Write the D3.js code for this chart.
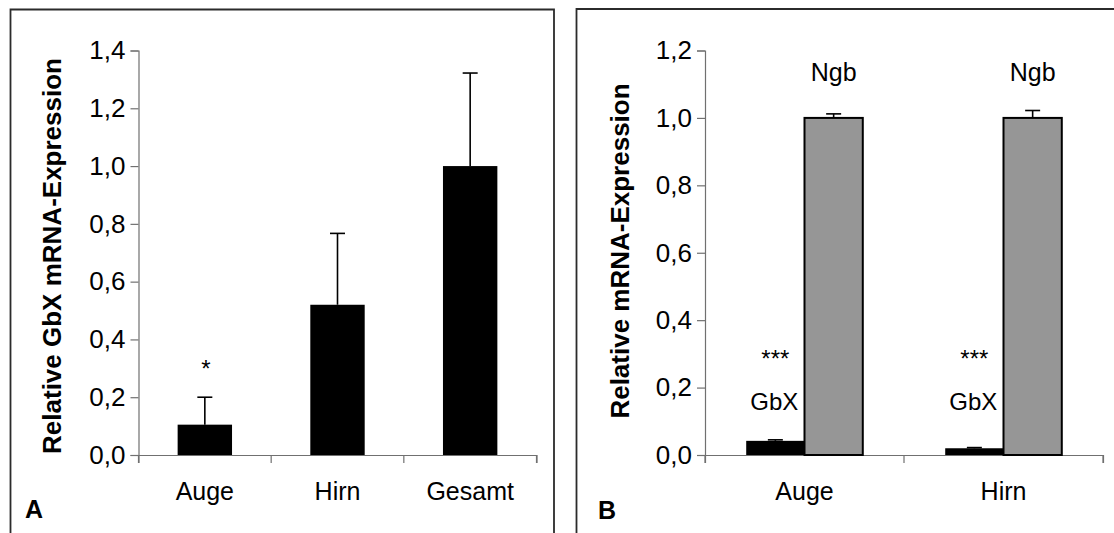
<!DOCTYPE html>
<html>
<head>
<meta charset="utf-8">
<script src="https://cdn.jsdelivr.net/npm/d3@7/dist/d3.min.js"></script>
<style>
  html, body { margin: 0; padding: 0; background: #fff; }
  svg { display: block; }
  text { font-family: "Liberation Sans", Arial, sans-serif; fill: #000; }
</style>
</head>
<body>
<svg id="chart" width="1114" height="533"></svg>
<script>
// Panel A: GbX expression per tissue
const catsA = ["Auge", "Hirn", "Gesamt"];
const valuesA = [0.105, 0.52, 1.0];
const errorsA = [0.095, 0.247, 0.322];
const sigA = ["*", "", ""];
const ticksA = [0, 0.2, 0.4, 0.6, 0.8, 1.0, 1.2, 1.4];

// Panel B: GbX vs. Ngb per tissue
const catsB = ["Auge", "Hirn"];
const seriesB = ["GbX", "Ngb"];
const gbxB = [0.042, 0.02];
const gbxErrB = [0.003, 0.002];
const ngbB = [1.0, 1.0];
const ngbErrB = [0.012, 0.022];
const sigB = ["***", "***"];
const ticksB = [0, 0.2, 0.4, 0.6, 0.8, 1.0, 1.2];

const svg = d3.select("#chart");
const de = d3.formatLocale({ decimal: ",", thousands: ".", grouping: [3], currency: ["", " €"] });
const fmt = de.format(".1f");

const FRAME = "#2b2b2b";
const AXIS = "#707070";

function frame(x0, y0, x1) {
  svg.append("path")
    .attr("d", `M${x0},545V${y0}H${x1}V545`)
    .attr("fill", "none")
    .attr("stroke", FRAME)
    .attr("stroke-width", 1.8);
}

function styleAxis(g) {
  g.select(".domain").attr("stroke", AXIS).attr("stroke-width", 1.2);
  g.selectAll(".tick line").attr("stroke", AXIS).attr("stroke-width", 1.2);
  g.selectAll(".tick text")
    .attr("font-family", "Liberation Sans, Arial, sans-serif")
    .attr("fill", "#000");
}

function errorBar(g, cx, yScale, v, e, capW) {
  g.append("line")
    .attr("x1", cx).attr("x2", cx)
    .attr("y1", yScale(v)).attr("y2", yScale(v + e))
    .attr("stroke", "#000").attr("stroke-width", 1.6);
  g.append("line")
    .attr("x1", cx - capW / 2).attr("x2", cx + capW / 2)
    .attr("y1", yScale(v + e)).attr("y2", yScale(v + e))
    .attr("stroke", "#000").attr("stroke-width", 1.6);
}

// ---------- Panel A ----------
frame(10.5, 9.5, 554);

const yA = d3.scaleLinear().domain([0, 1.4]).range([455, 50.5]);
const xA = d3.scaleBand().domain(catsA).range([138.5, 536.5]).padding(0);
const barWA = xA.bandwidth() * 0.41;

const gA = svg.append("g");

gA.append("g")
  .attr("transform", `translate(138.5,0)`)
  .call(d3.axisLeft(yA).tickValues(ticksA).tickFormat(fmt).tickSize(8).tickPadding(5))
  .call(g => g.selectAll(".tick text").attr("font-size", 26))
  .call(styleAxis);

gA.append("g")
  .attr("transform", `translate(0,${yA(0)})`)
  .call(d3.axisBottom(xA).tickSize(8).tickFormat(""))
  .call(g => g.selectAll(".tick").remove())
  .call(styleAxis);

// boundary ticks between categories
const bTicksA = [0, 1, 2, 3].map(i => xA.range()[0] + i * xA.step());
gA.selectAll("line.xt").data(bTicksA).join("line")
  .attr("x1", d => d).attr("x2", d => d)
  .attr("y1", yA(0)).attr("y2", yA(0) + 8)
  .attr("stroke", AXIS).attr("stroke-width", 1.2);

gA.selectAll("rect.bar").data(catsA).join("rect")
  .attr("x", d => xA(d) + xA.bandwidth() / 2 - barWA / 2)
  .attr("width", barWA)
  .attr("y", (d, i) => yA(valuesA[i]))
  .attr("height", (d, i) => yA(0) - yA(valuesA[i]))
  .attr("fill", "#000");

catsA.forEach((c, i) => {
  errorBar(gA, xA(c) + xA.bandwidth() / 2, yA, valuesA[i], errorsA[i], 15);
  if (sigA[i]) {
    gA.append("text")
      .attr("x", xA(c) + xA.bandwidth() / 2 + 1)
      .attr("y", yA(valuesA[i] + errorsA[i]) - 20)
      .attr("text-anchor", "middle")
      .attr("font-size", 24)
      .text(sigA[i]);
  }
});

gA.selectAll("text.xl").data(catsA).join("text")
  .attr("x", d => xA(d) + xA.bandwidth() / 2)
  .attr("y", 500)
  .attr("text-anchor", "middle")
  .attr("font-size", 25)
  .text(d => d);

gA.append("text")
  .attr("transform", "translate(61,256) rotate(-90)")
  .attr("text-anchor", "middle")
  .attr("font-size", 26)
  .attr("font-weight", "bold")
  .text("Relative GbX mRNA-Expression");

gA.append("text")
  .attr("x", 25).attr("y", 518)
  .attr("font-size", 25)
  .attr("font-weight", "bold")
  .text("A");

// ---------- Panel B ----------
frame(576.5, 9, 1125);

const yB = d3.scaleLinear().domain([0, 1.2]).range([455, 50.5]);
const xB = d3.scaleBand().domain(catsB).range([705, 1103]).padding(0);
const xSub = d3.scaleBand().domain(seriesB).range([0, xB.bandwidth()]).paddingInner(0).paddingOuter(0.707);

const gB = svg.append("g");

gB.append("g")
  .attr("transform", `translate(705,0)`)
  .call(d3.axisLeft(yB).tickValues(ticksB).tickFormat(fmt).tickSize(8).tickPadding(5))
  .call(g => g.selectAll(".tick text").attr("font-size", 26))
  .call(styleAxis);

gB.append("g")
  .attr("transform", `translate(0,${yB(0)})`)
  .call(d3.axisBottom(xB).tickSize(8).tickFormat(""))
  .call(g => g.selectAll(".tick").remove())
  .call(styleAxis);

const bTicksB = [0, 1, 2].map(i => xB.range()[0] + i * xB.step());
gB.selectAll("line.xt").data(bTicksB).join("line")
  .attr("x1", d => d).attr("x2", d => d)
  .attr("y1", yB(0)).attr("y2", yB(0) + 8)
  .attr("stroke", AXIS).attr("stroke-width", 1.2);

catsB.forEach((c, i) => {
  const x0 = xB(c);
  const xg = x0 + xSub("GbX");
  const xn = x0 + xSub("Ngb");
  const w = xSub.bandwidth();

  // GbX bar
  gB.append("rect")
    .attr("x", xg).attr("width", w)
    .attr("y", yB(gbxB[i])).attr("height", yB(0) - yB(gbxB[i]))
    .attr("fill", "#000");
  errorBar(gB, xg + w / 2, yB, gbxB[i], gbxErrB[i], 15);

  // Ngb bar
  errorBar(gB, xn + w / 2, yB, ngbB[i], ngbErrB[i], 15);
  gB.append("rect")
    .attr("x", xn).attr("width", w)
    .attr("y", yB(ngbB[i])).attr("height", yB(0) - yB(ngbB[i]))
    .attr("fill", "#969696")
    .attr("stroke", "#000").attr("stroke-width", 2);

  // series labels and significance
  gB.append("text")
    .attr("x", xn + w / 2).attr("y", 81)
    .attr("text-anchor", "middle").attr("font-size", 25)
    .text("Ngb");
  gB.append("text")
    .attr("x", xg + w / 2 - 1).attr("y", 410)
    .attr("text-anchor", "middle").attr("font-size", 24)
    .text("GbX");
  gB.append("text")
    .attr("x", xg + w / 2).attr("y", 367)
    .attr("text-anchor", "middle").attr("font-size", 24)
    .text(sigB[i]);
});

gB.selectAll("text.xl").data(catsB).join("text")
  .attr("x", d => xB(d) + xB.bandwidth() / 2)
  .attr("y", 500)
  .attr("text-anchor", "middle")
  .attr("font-size", 25)
  .text(d => d);

gB.append("text")
  .attr("transform", "translate(629,251) rotate(-90)")
  .attr("text-anchor", "middle")
  .attr("font-size", 26)
  .attr("font-weight", "bold")
  .text("Relative mRNA-Expression");

gB.append("text")
  .attr("x", 598).attr("y", 519)
  .attr("font-size", 25)
  .attr("font-weight", "bold")
  .text("B");
</script>
</body>
</html>
